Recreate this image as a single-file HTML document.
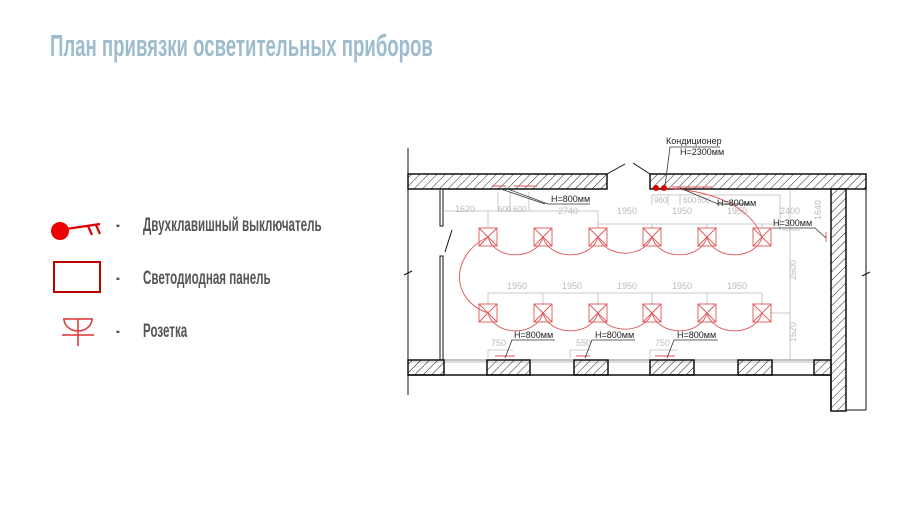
<!DOCTYPE html>
<html><head><meta charset="utf-8"><style>
html,body{margin:0;padding:0;background:#fff;width:900px;height:506px;overflow:hidden}
.t{position:absolute;font-family:"Liberation Sans Narrow","Liberation Sans",sans-serif;white-space:nowrap;transform-origin:0 0}
.l{font-size:19px;font-weight:bold;color:#555;transform:scaleX(0.61)}
</style></head><body>
<div class="t" style="left:50px;top:28px;font-size:31px;font-weight:bold;color:#9dbccd;transform:scaleX(0.60)">План привязки осветительных приборов</div>
<div class="t l" style="left:116px;top:215px">-</div><div class="t l" style="left:143px;top:215px">Двухклавишный выключатель</div>
<div class="t l" style="left:116px;top:268px">-</div><div class="t l" style="left:143px;top:268px">Светодиодная панель</div>
<div class="t l" style="left:116px;top:321px">-</div><div class="t l" style="left:143px;top:321px">Розетка</div>
<svg width="900" height="506" style="position:absolute;left:0;top:0" xmlns="http://www.w3.org/2000/svg">
<defs><pattern id="h" width="6" height="6" patternUnits="userSpaceOnUse" patternTransform="rotate(45)"><line x1="0" y1="0" x2="0" y2="6" stroke="#222" stroke-width="1"/></pattern>
<g id="l"><rect x="-9" y="-9" width="18" height="18"/><path d="M-9 -9 L9 9 M9 -9 L-9 9"/></g></defs>
<circle cx="60" cy="231" r="9" fill="#e00"/>
<path d="M66 229 L100 224 M88 226 L92 235 M96 225 L100 234" stroke="#d00" stroke-width="2.2" fill="none"/>
<rect x="54" y="262" width="46" height="30" fill="none" stroke="#b00" stroke-width="2"/>
<path d="M63 319 L93 319 M64 319 A14 12 0 0 0 92 319 M62 335 L94 335 M78 319 L78 346" stroke="#d33" stroke-width="1.5" fill="none"/>
<g stroke="#111" fill="none" stroke-width="1">
<line x1="408" y1="148" x2="408" y2="395"/>
<rect x="408" y="174" width="199" height="15" fill="url(#h)" stroke-width="1.5"/>
<rect x="650" y="174" width="216" height="15" fill="url(#h)" stroke-width="1.5"/>
<rect x="831" y="189" width="15" height="222" fill="url(#h)" stroke-width="1.5"/>
<line x1="866" y1="189" x2="866" y2="410"/>
<line x1="846" y1="410" x2="866" y2="410"/>
<path d="M607 174 L625 164 M633 163 L650 174"/>
<path d="M440 190 V226 H443 V190 M440 360 V256 H443 V360 M452 230 L445 252"/>
<path d="M404 275 L412 271 M862 276 L870 272"/>
<line x1="408" y1="360" x2="831" y2="360" stroke="#888"/>
<line x1="408" y1="375" x2="831" y2="375" stroke-width="1.5"/>
<line x1="408" y1="362" x2="831" y2="362" stroke="#bbb"/>
<rect x="408" y="360" width="36" height="15" fill="url(#h)" stroke-width="1.5"/>
<rect x="487" y="360" width="43" height="15" fill="url(#h)" stroke-width="1.5"/>
<rect x="574" y="360" width="34" height="15" fill="url(#h)" stroke-width="1.5"/>
<rect x="650" y="360" width="44" height="15" fill="url(#h)" stroke-width="1.5"/>
<rect x="738" y="360" width="34" height="15" fill="url(#h)" stroke-width="1.5"/>
<rect x="814" y="360" width="17" height="15" fill="url(#h)" stroke-width="1.5"/>
<line x1="831" y1="375" x2="831" y2="411" stroke-width="1.5"/>
</g>
<g stroke="#bbb" fill="none" stroke-width="0.8">
<path d="M443 211 H488 V228 M488 211 H498 V192 M498 211 H510 V192 M510 211 H529 V192 M529 211 H598 V228"/>
<path d="M598 224 H780 M598 224 V228 M652 224 V228 M707 224 V228 M762 224 V228"/>
<path d="M652 195 H780 M652 195 V205 M668 195 V205 M680 195 V205 M780 195 V230"/>
<path d="M488 293 H762 M488 293 V305 M543 293 V305 M598 293 V305 M652 293 V305 M707 293 V305 M762 293 V305"/>
<path d="M770 313 H790 M790 230 V360 M782 230 H800 M790 190 V230"/>
<path d="M488 350 H513 M488 350 V358 M570 350 H592 M570 350 V358 M650 350 H677 M650 350 V358"/>
</g>
<g font-family="Liberation Sans Narrow,Liberation Sans,sans-serif" font-size="9" fill="#bbb">
<text x="455" y="212">1620</text><text x="498" y="212" font-size="8">600</text><text x="513" y="212" font-size="8">600</text><text x="558" y="214">2740</text>
<text x="617" y="214">1950</text><text x="672" y="214">1950</text><text x="727" y="214">1950</text><text x="780" y="214">2400</text>
<text x="654" y="203" font-size="8">960</text><text x="683" y="203" font-size="8">600</text><text x="697" y="203" font-size="8">600</text>
<text x="507" y="289">1950</text><text x="562" y="289">1950</text><text x="617" y="289">1950</text><text x="672" y="289">1950</text><text x="727" y="289">1950</text>
<text x="491" y="346">750</text><text x="576" y="346">550</text><text x="655" y="346">750</text>
<text transform="translate(796,280) rotate(-90)">2600</text><text transform="translate(796,342) rotate(-90)">1620</text><text transform="translate(821,220) rotate(-90)">1640</text>
</g>
<g stroke="#d55" fill="none" stroke-width="0.9">
<use href="#l" x="488" y="237"/><use href="#l" x="543" y="237"/><use href="#l" x="598" y="237"/><use href="#l" x="652" y="237"/><use href="#l" x="707" y="237"/><use href="#l" x="762" y="237"/>
<use href="#l" x="488" y="313"/><use href="#l" x="543" y="313"/><use href="#l" x="598" y="313"/><use href="#l" x="652" y="313"/><use href="#l" x="707" y="313"/><use href="#l" x="762" y="313"/>
<path d="M488 237 A28 22 0 0 0 543 237 A28 22 0 0 0 598 237 A28 22 0 0 0 652 237 A28 22 0 0 0 707 237 A28 22 0 0 0 762 237"/>
<path d="M488 313 A28 22 0 0 0 543 313 A28 22 0 0 0 598 313 A28 22 0 0 0 652 313 A28 22 0 0 0 707 313 A28 22 0 0 0 762 313"/>
<path d="M488 237 C450 255 450 300 488 313"/>
<path d="M663 188 C710 190 750 205 762 237"/>
<path d="M492 186 h14 M514 186 h14 M527 186 h10 M672 187 h40 M495 356 h20 M576 356 h14 M655 356 h20 M826 232 v10"/>
</g>
<circle cx="656" cy="188" r="3" fill="#d00"/><circle cx="664" cy="188" r="3" fill="#d00"/>
<g stroke="#333" fill="none" stroke-width="0.8">
<path d="M505 188 L548 204 H590 M498 188 L545 204"/>
<path d="M665 186 L670 147 H720 M680 188 L718 204 H750"/>
<path d="M772 228 H815 L826 238"/>
<path d="M505 358 L512 340 H555 M585 358 L592 340 H635 M667 358 L674 340 H718"/>
</g>
<g font-family="Liberation Sans Narrow,Liberation Sans,sans-serif" font-size="9" fill="#222">
<text x="666" y="144">Кондиционер</text><text x="680" y="155">H=2300мм</text>
<text x="551" y="202">H=800мм</text><text x="717" y="206">H=800мм</text><text x="773" y="226">H=300мм</text>
<text x="514" y="338">H=800мм</text><text x="595" y="338">H=800мм</text><text x="677" y="338">H=800мм</text>
</g>
</svg>
</body></html>
